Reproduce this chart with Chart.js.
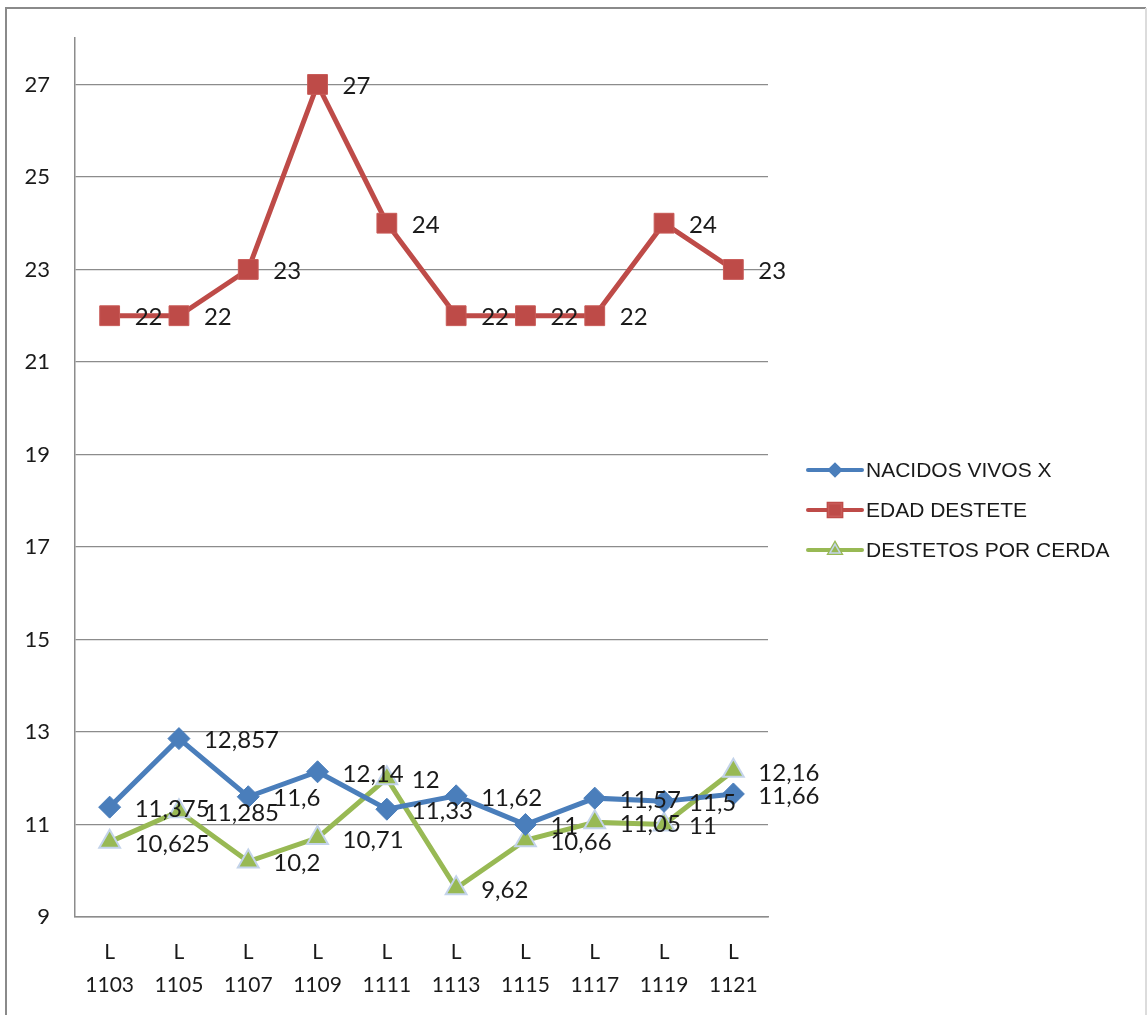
<!DOCTYPE html>
<html>
<head>
<meta charset="utf-8">
<script src="https://cdn.jsdelivr.net/npm/chart.js@4"></script>
<style>
  body { margin: 0; background: #fff; }
  #wrap { position: absolute; left: 0; top: 0; width: 1147px; height: 1015px; }
</style>
</head>
<body>
<div id="wrap"><canvas id="grafico"></canvas></div>
<script>
// datos
const lotes = [['L', '1103'], ['L', '1105'], ['L', '1107'], ['L', '1109'], ['L', '1111'],
               ['L', '1113'], ['L', '1115'], ['L', '1117'], ['L', '1119'], ['L', '1121']];
const nacidosVivos = [11.375, 12.857, 11.6, 12.14, 11.33, 11.62, 11, 11.57, 11.5, 11.66];
const edadDestete = [22, 22, 23, 27, 24, 22, 22, 22, 24, 23];
const destetosPorCerda = [10.625, 11.285, 10.2, 10.71, 12, 9.62, 10.66, 11.05, 11, 12.16];
const nombres = ['NACIDOS VIVOS X', 'EDAD DESTETE', 'DESTETOS POR CERDA'];
const marcasY = [9, 11, 13, 15, 17, 19, 21, 23, 25, 27];
const ejeY = { min: 9, max: 28 };

const AZUL = '#4a7ebb', ROJO = '#be4b48', VERDE = '#98b954';

// marco gris alrededor del gráfico
const marco = {
    id: 'marco',
    beforeDraw(chart) {
        const ctx = chart.ctx;
        ctx.save();
        ctx.strokeStyle = '#8a8a8a';
        ctx.lineWidth = 2;
        ctx.beginPath();
        ctx.moveTo(6, 1015);
        ctx.lineTo(6, 8);
        ctx.lineTo(1146, 8);
        ctx.stroke();
        ctx.strokeStyle = '#dcdcdc';
        ctx.beginPath();
        ctx.moveTo(1146, 8);
        ctx.lineTo(1146, 1015);
        ctx.stroke();
        ctx.restore();
    }
};

// etiquetas de valores a la derecha de cada punto
const etiquetas = {
    id: 'etiquetas',
    afterDatasetsDraw(chart) {
        const ctx = chart.ctx;
        ctx.save();
        ctx.font = '24px Lato';
        ctx.fillStyle = '#1a1a1a';
        ctx.textAlign = 'left';
        ctx.textBaseline = 'middle';
        chart.data.datasets.forEach((ds, i) => {
            chart.getDatasetMeta(i).data.forEach((p, j) => {
                const txt = String(ds.data[j]).replace('.', ',');
                ctx.fillText(txt, p.x + 25, p.y + 2);
            });
        });
        ctx.restore();
    }
};

// leyenda con línea y marcador, como en Excel
const leyenda = {
    id: 'leyenda',
    afterDraw(chart) {
        const ctx = chart.ctx;
        const x0 = 808, x1 = 862, xm = 835;
        const ys = [470, 510, 550];
        ctx.save();
        chart.data.datasets.forEach((ds, i) => {
            const y = ys[i];
            ctx.strokeStyle = ds.borderColor;
            ctx.lineWidth = 4;
            ctx.lineCap = 'round';
            ctx.beginPath();
            ctx.moveTo(x0, y);
            ctx.lineTo(x1, y);
            ctx.stroke();
            Chart.helpers.drawPoint(ctx, {
                pointStyle: ds.pointStyle,
                radius: [5, 9, 6][i],
                borderWidth: 1.5
            }, xm, y);
            ctx.fillStyle = ds.pointBackgroundColor;
            ctx.strokeStyle = ds.pointBorderColor;
            ctx.lineWidth = 1.5;
            ctx.fill();
            ctx.stroke();
            ctx.fillStyle = '#1a1a1a';
            ctx.font = '21px "Liberation Sans"';
            ctx.textAlign = 'left';
            ctx.textBaseline = 'middle';
            ctx.fillText(nombres[i], 866, y + 1);
        });
        ctx.restore();
    }
};

const ctx = document.getElementById('grafico').getContext('2d');
const grafico = new Chart(ctx, {
    type: 'line',
    data: {
        labels: lotes,
        datasets: [{
            label: nombres[0],
            data: nacidosVivos,
            borderColor: AZUL,
            borderWidth: 5,
            pointStyle: 'rectRot',
            pointRadius: 11,
            pointBackgroundColor: AZUL,
            pointBorderColor: AZUL,
            pointBorderWidth: 1
        }, {
            label: nombres[1],
            data: edadDestete,
            borderColor: ROJO,
            borderWidth: 5,
            pointStyle: 'rect',
            pointRadius: 14,
            pointBackgroundColor: ROJO,
            pointBorderColor: '#c85a57',
            pointBorderWidth: 1
        }, {
            label: nombres[2],
            data: destetosPorCerda,
            borderColor: VERDE,
            borderWidth: 5,
            pointStyle: 'triangle',
            pointRadius: 12,
            pointBackgroundColor: VERDE,
            pointBorderColor: '#c3d3ea',
            pointBorderWidth: 2
        }]
    },
    options: {
        responsive: true,
        maintainAspectRatio: false,
        animation: false,
        layout: { padding: { left: 0, top: 38, right: 379, bottom: 0 } },
        plugins: {
            legend: { display: false },
            tooltip: { enabled: false }
        },
        scales: {
            x: {
                offset: true,
                grid: { display: false, drawTicks: false },
                border: { color: '#8c8c8c', width: 1.5 },
                ticks: {
                    color: '#1a1a1a',
                    font: { family: 'Lato', size: 21, lineHeight: 1.6 },
                    padding: 18,
                    maxRotation: 0,
                    autoSkip: false
                },
                afterFit(axis) { axis.height = 98; }
            },
            y: {
                min: ejeY.min,
                max: ejeY.max,
                grid: { color: '#8c8c8c', lineWidth: 1.2, drawTicks: false },
                border: { color: '#8c8c8c', width: 1.5 },
                ticks: {
                    color: '#1a1a1a',
                    font: { family: 'Lato', size: 22 },
                    padding: 25
                },
                afterBuildTicks(axis) {
                    axis.ticks = marcasY.map(v => ({ value: v }));
                },
                afterFit(axis) { axis.width = 75; }
            }
        }
    },
    plugins: [marco, etiquetas, leyenda]
});
</script>
</body>
</html>
